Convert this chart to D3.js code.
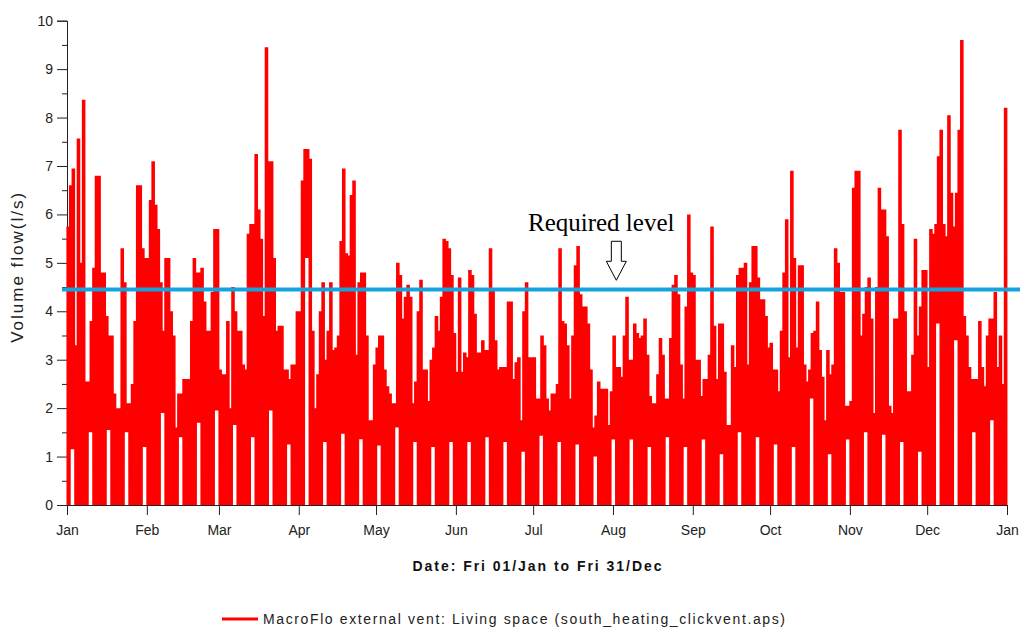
<!DOCTYPE html>
<html>
<head>
<meta charset="utf-8">
<script src="https://cdn.jsdelivr.net/npm/d3@7"></script>
<style>
  body { margin: 0; background: #fff; }
  svg { display: block; }
</style>
</head>
<body>
<div id="chart"></div>
<script>
// daily peak flow (l/s), one array per month
const janPeak = [5.75, 6.6, 6.95, 3.3, 7.57, 5.0, 8.37, 2.55, 2.55, 3.8, 4.9, 6.8, 6.8, 4.8, 4.8, 3.9, 3.5, 3.5, 2.3, 2.0, 2.0, 5.3, 4.6, 2.1, 2.1, 2.5, 3.8, 6.6, 6.6, 5.3, 5.1]
const febPeak = [5.1, 6.3, 7.1, 6.2, 5.7, 4.6, 3.6, 5.1, 5.1, 4.0, 3.5, 1.6, 2.3, 2.3, 2.6, 2.6, 2.6, 3.8, 5.1, 4.8, 4.8, 4.9, 4.2, 3.6, 3.6, 4.4, 5.7, 5.7]
const marPeak = [2.8, 2.7, 2.7, 3.8, 2.0, 4.5, 4.0, 3.6, 3.6, 2.9, 2.8, 5.6, 5.8, 5.8, 7.25, 6.1, 5.5, 3.9, 9.45, 7.1, 7.1, 5.1, 3.6, 3.7, 3.7, 2.8, 2.8, 2.6, 2.9, 2.9, 4.0]
const aprPeak = [4.0, 6.7, 7.35, 7.35, 7.15, 3.6, 2.0, 2.7, 4.0, 4.6, 3.0, 3.6, 4.6, 3.2, 3.25, 3.5, 5.45, 6.95, 5.2, 5.15, 6.4, 6.7, 3.1, 4.6, 4.8, 4.8, 3.5, 1.75, 1.75, 2.9]
const mayPeak = [3.25, 3.5, 3.5, 2.8, 2.45, 2.3, 2.1, 2.1, 5.0, 4.75, 3.85, 4.3, 4.55, 4.3, 2.1, 2.55, 4.0, 4.65, 2.8, 2.8, 2.15, 3.0, 3.25, 3.9, 3.6, 4.3, 5.5, 5.45, 5.3, 4.75, 3.55]
const junPeak = [2.75, 4.7, 2.75, 3.15, 3.05, 4.85, 4.75, 3.95, 3.15, 3.15, 3.4, 3.2, 3.2, 5.3, 4.45, 3.4, 2.8, 2.85, 2.85, 2.85, 4.2, 4.2, 2.6, 2.95, 3.05, 1.75, 4.0, 4.6, 3.05, 3.05]
const julPeak = [3.05, 2.2, 2.2, 3.5, 3.3, 2.2, 1.95, 2.3, 2.3, 2.5, 5.3, 3.8, 3.75, 3.3, 2.2, 3.5, 4.95, 5.35, 4.35, 4.1, 4.1, 3.75, 2.8, 1.6, 1.85, 2.55, 2.4, 2.4, 2.4, 1.65, 2.35]
const augPeak = [3.5, 2.85, 2.85, 2.65, 3.5, 4.3, 3.0, 3.0, 3.75, 3.55, 3.45, 3.5, 3.85, 3.1, 2.25, 2.1, 2.1, 2.7, 3.45, 3.1, 2.2, 2.2, 3.45, 4.55, 4.75, 4.35, 2.9, 2.2, 4.1, 6.0, 4.8]
const sepPeak = [4.75, 3.0, 3.0, 2.25, 2.6, 2.6, 3.1, 5.75, 3.7, 2.6, 3.75, 3.75, 2.75, 1.65, 1.65, 3.3, 2.85, 4.75, 4.9, 4.9, 5.0, 2.9, 4.6, 5.35, 5.35, 4.7, 4.25, 4.25, 3.9, 3.25]
const octPeak = [3.35, 2.8, 2.8, 2.35, 3.6, 4.8, 5.9, 3.05, 6.9, 5.1, 3.25, 4.95, 4.95, 2.9, 2.55, 2.8, 3.55, 3.6, 4.2, 3.2, 2.65, 1.75, 3.2, 2.7, 2.9, 5.3, 5.0, 4.4, 4.4, 2.05, 2.05]
const novPeak = [2.15, 6.55, 6.9, 6.9, 3.5, 3.95, 4.5, 4.7, 3.85, 1.9, 4.5, 6.55, 6.1, 6.1, 5.55, 2.05, 1.9, 3.85, 3.85, 7.75, 5.8, 4.0, 2.35, 2.35, 3.1, 5.5, 3.5, 4.1, 4.85, 4.85]
const decPeak = [2.85, 5.7, 5.6, 5.8, 7.2, 7.75, 5.8, 5.55, 8.05, 6.45, 5.75, 6.45, 7.75, 9.6, 3.9, 3.5, 2.85, 2.6, 2.6, 2.6, 3.8, 2.85, 2.45, 3.5, 3.85, 3.85, 4.4, 2.85, 3.5, 2.5, 8.2]

// lowest flow over each weekend (vent not shut), Jan 2-3 first
const weekendFloor = [1.15, 1.5, 1.55, 1.5, 1.2, 1.9, 1.4, 1.7, 1.95, 1.65, 1.4, 1.95, 1.25, 5.1, 1.3, 1.47, 1.36, 1.23, 1.6, 1.3, 1.2, 1.3, 1.3, 1.4, 1.3, 1.1, 1.43, 1.3, 1.25, 1.0, 1.35, 1.35, 1.2, 1.4, 1.2, 1.35, 1.05, 1.5, 1.4, 1.25, 1.2, 2.2, 1.05, 1.35, 1.5, 1.45, 1.3, 1.1, 3.75, 3.4, 1.5, 1.75]

const yTicks = [0, 1, 2, 3, 4, 5, 6, 7, 8, 9, 10]
const yMinorTicks = [0.5, 1.5, 2.5, 3.5, 4.5, 5.5, 6.5, 7.5, 8.5, 9.5]
const requiredLevel = 4.45
const note = {text: 'Required level', textDay: 179, textLevel: 5.65, arrowDay: 213.3, arrowTip: 4.64}
const seriesLabel = 'MacroFlo external vent: Living space (south_heating_clickvent.aps)'
const xTitle = 'Date: Fri 01/Jan to Fri 31/Dec'
const yTitle = 'Volume flow(l/s)'

const width = 1021
const height = 628
const margin = {left: 67, top: 20.7, right: 14, bottom: 123}
const font = "'Liberation Sans', Arial, sans-serif"

const dailyPeak = [].concat(janPeak, febPeak, marPeak, aprPeak, mayPeak, junPeak,
  julPeak, augPeak, sepPeak, octPeak, novPeak, decPeak)

// hourly samples: the vent cycles between its peak and its low; weekdays drop to 0
const start = Date.UTC(2010, 0, 1) // a Friday
const hour = 3600e3
const samples = []
dailyPeak.forEach((peak, d) => {
  const dow = (d + 4) % 7 // Mon = 0
  const wk = Math.floor((d - 8) / 7) + 1
  for (let h = 0; h < 24; h++) {
    const weekend = (dow === 5 && h >= 6) || dow === 6
    const low = weekend ? weekendFloor[wk] : 0
    samples.push({t: new Date(start + (d * 24 + h) * hour), v: h % 2 ? low : peak})
  }
})

const svg = d3.select('#chart')
  .append('svg')
  .attr('width', width)
  .attr('height', height)
  .style('font-family', font)

const x = d3.scaleUtc()
  .domain([new Date(start), new Date(Date.UTC(2011, 0, 1))])
  .range([margin.left, width - margin.right])
const y = d3.scaleLinear()
  .domain([0, 10])
  .range([height - margin.bottom, margin.top])

// axes
const yAxisG = svg.append('g')
  .attr('transform', `translate(${margin.left},0)`)
  .call(d3.axisLeft(y).tickValues(yTicks).tickSize(10).tickPadding(4).tickFormat(d3.format('d')))
yAxisG.append('g')
  .call(d3.axisLeft(y).tickValues(yMinorTicks).tickSize(5).tickFormat(''))
  .select('.domain').remove()

const xAxisG = svg.append('g')
  .attr('transform', `translate(0,${y(0)})`)
  .call(d3.axisBottom(x).ticks(d3.utcMonth.every(1)).tickFormat(d3.utcFormat('%b')).tickSize(10).tickPadding(10))

svg.selectAll('.domain, .tick line').attr('stroke', '#222')
svg.selectAll('.tick text')
  .attr('fill', '#222')
  .style('font-size', '14px')
  .style('font-family', font)

// series
const line = d3.line()
  .x(d => x(d.t))
  .y(d => y(d.v))

svg.append('path')
  .datum(samples)
  .attr('d', line)
  .attr('fill', 'none')
  .attr('stroke', '#ff0000')
  .attr('stroke-width', 1.2)
  .attr('stroke-linejoin', 'bevel')

// required level
svg.append('line')
  .attr('x1', x.range()[0] - 5)
  .attr('x2', x.range()[1] + 13)
  .attr('y1', y(requiredLevel))
  .attr('y2', y(requiredLevel))
  .attr('stroke', '#16a3dd')
  .attr('stroke-width', 4)

// annotation
const tx = x(new Date(start + note.textDay * 24 * hour))
svg.append('text')
  .attr('x', tx)
  .attr('y', y(note.textLevel))
  .attr('font-family', "'Liberation Serif', 'Times New Roman', serif")
  .attr('font-size', 25)
  .attr('fill', '#000')
  .text(note.text)

const ax = x(new Date(start + note.arrowDay * 24 * hour))
const ay = y(note.arrowTip)
svg.append('path')
  .attr('d', `M${ax - 5},${ay - 39} L${ax + 5},${ay - 39} L${ax + 5},${ay - 19} L${ax + 10},${ay - 19} L${ax},${ay} L${ax - 10},${ay - 19} L${ax - 5},${ay - 19} Z`)
  .attr('fill', '#fff')
  .attr('stroke', '#000')
  .attr('stroke-width', 1)

// titles
svg.append('text')
  .attr('x', (x.range()[0] + x.range()[1]) / 2)
  .attr('y', 571)
  .attr('text-anchor', 'middle')
  .attr('font-weight', 'bold')
  .attr('font-size', 14)
  .attr('fill', '#111')
  .attr('textLength', 249)
  .attr('lengthAdjust', 'spacing')
  .text(xTitle)

svg.append('text')
  .attr('transform', `translate(23,${(y(0) + y(10)) / 2 + 5}) rotate(-90)`)
  .attr('text-anchor', 'middle')
  .attr('font-size', 17)
  .attr('fill', '#222')
  .attr('textLength', 150)
  .attr('lengthAdjust', 'spacing')
  .text(yTitle)

// legend
const legend = svg.append('g').attr('transform', 'translate(222,619)')
legend.append('line')
  .attr('x1', 0).attr('x2', 36)
  .attr('stroke', '#ff0000')
  .attr('stroke-width', 3)
legend.append('text')
  .attr('x', 41)
  .attr('y', 5)
  .attr('font-size', 14)
  .attr('fill', '#222')
  .attr('textLength', 522)
  .attr('lengthAdjust', 'spacing')
  .text(seriesLabel)
</script>
</body>
</html>
